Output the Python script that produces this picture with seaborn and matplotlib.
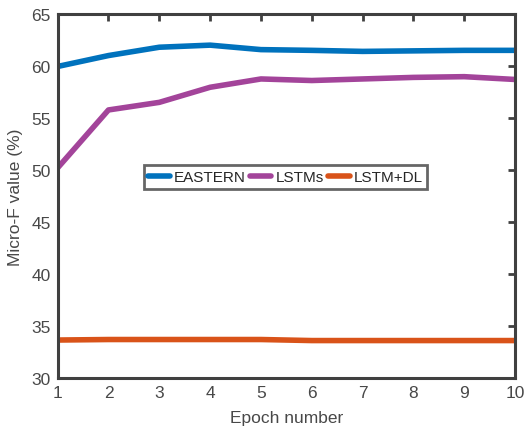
import matplotlib
matplotlib.use('Agg')
import matplotlib.pyplot as plt
import pandas as pd
import seaborn as sns

epochs = [1, 2, 3, 4, 5, 6, 7, 8, 9, 10]
eastern = [59.95, 61.0, 61.8, 62.0, 61.57, 61.5, 61.4, 61.45, 61.5, 61.5]
lstms = [50.2, 55.77, 56.5, 57.95, 58.75, 58.6, 58.75, 58.9, 58.97, 58.7]
lstm_dl = [33.65, 33.7, 33.7, 33.7, 33.7, 33.6, 33.6, 33.6, 33.6, 33.6]
methods = ['EASTERN', 'LSTMs', 'LSTM+DL']
colors = ['#0072BD', '#A3449A', '#D95319']

df = pd.DataFrame({
    'epoch': epochs * 3,
    'value': eastern + lstms + lstm_dl,
    'method': [m for m in methods for _ in epochs],
})

sns.set_style('white')
plt.rcParams['font.family'] = ['Liberation Sans', 'DejaVu Sans']
axis_col = '#404040'
text_col = '#484848'

fig = plt.figure(figsize=(5.24, 4.27), dpi=100)
ax = fig.add_axes([0.110, 0.1124, 0.873, 0.8526])
sns.lineplot(data=df, x='epoch', y='value', hue='method', hue_order=methods,
             palette=colors, linewidth=4, ax=ax, legend=True)

ax.set_xlim(1, 10)
ax.set_ylim(30, 65)
ax.set_xticks(epochs)
ax.set_yticks(range(30, 66, 5))
ax.set_xlabel('Epoch number', fontsize=12.5, color=text_col, labelpad=7)
ax.set_ylabel('Micro-F value (%)', fontsize=12.5, color=text_col, labelpad=6)
ax.tick_params(direction='in', length=5, width=2, colors=axis_col, labelcolor=text_col,
               labelsize=12.5, top=True, right=True, pad=5)
for s in ax.spines.values():
    s.set_color(axis_col)
    s.set_linewidth(2.2)

leg = ax.legend(loc='center', bbox_to_anchor=(0.498, 0.552), ncol=3, fontsize=11,
                frameon=True, fancybox=False,
                handlelength=1.4, handletextpad=0.25, columnspacing=0.3,
                borderpad=0.3, borderaxespad=0)
leg.get_frame().set_edgecolor(axis_col)
leg.get_frame().set_linewidth(2)
for line in leg.get_lines():
    line.set_linewidth(4)

plt.savefig('out.png', dpi=100)
